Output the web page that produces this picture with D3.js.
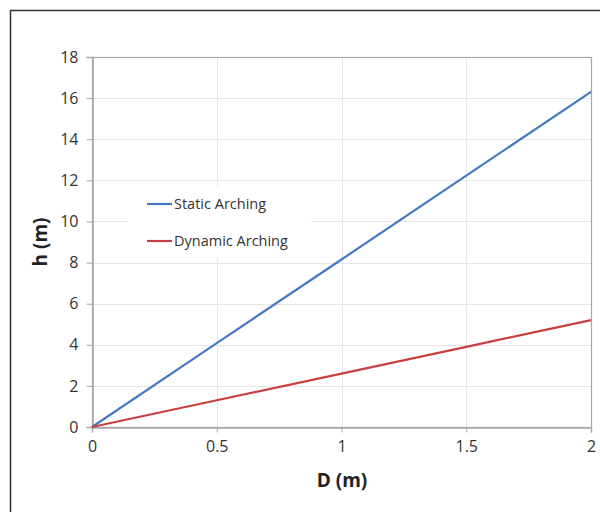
<!DOCTYPE html>
<html>
<head>
<meta charset="utf-8">
<script src="https://cdn.jsdelivr.net/npm/d3@7"></script>
<style>
  body { margin: 0; background: #fff; }
  svg { display: block; font-family: "Open Sans", "Liberation Sans", sans-serif; }
</style>
</head>
<body>
<svg id="chart"></svg>
<script>
// chart values
let depths = [0, 0.5, 1, 1.5, 2];
let staticArching = [0, 4.08, 8.15, 12.23, 16.3];
let dynamicArching = [0, 1.3, 2.6, 3.9, 5.2];
let seriesNames = ["Static Arching", "Dynamic Arching"];
let seriesColors = ["#4579c1", "#c8403e"];
let xTicks = [0, 0.5, 1, 1.5, 2];
let yTicks = [0, 2, 4, 6, 8, 10, 12, 14, 16, 18];

let w = 600, h = 512;
let margin = { left: 92, right: 9, top: 57, bottom: 85 };

var svg = d3.select("#chart").attr("width", w).attr("height", h);

// outer frame (runs past right and bottom edge)
svg.append("rect")
    .attr("x", 10.5).attr("y", 10.5)
    .attr("width", 620).attr("height", 540)
    .attr("fill", "none").attr("stroke", "#333").attr("stroke-width", 1.5);

let xScale = d3.scaleLinear()
    .domain([0, 2])
    .range([margin.left, w - margin.right]);
let yScale = d3.scaleLinear()
    .domain([0, 18])
    .range([h - margin.bottom, margin.top]);

// gridlines
svg.append("g").selectAll("line")
    .data(yTicks.slice(1, -1))
    .enter().append("line")
    .attr("x1", xScale(0)).attr("x2", xScale(2))
    .attr("y1", d => Math.round(yScale(d)) + 0.5)
    .attr("y2", d => Math.round(yScale(d)) + 0.5)
    .attr("stroke", "#e6e6e6");
svg.append("g").selectAll("line")
    .data(xTicks.slice(1, -1))
    .enter().append("line")
    .attr("y1", yScale(0)).attr("y2", yScale(18))
    .attr("x1", d => Math.round(xScale(d)) + 0.5)
    .attr("x2", d => Math.round(xScale(d)) + 0.5)
    .attr("stroke", "#e6e6e6");

// plot frame
svg.append("rect")
    .attr("x", xScale(0) + 0.5).attr("y", yScale(18) + 0.5)
    .attr("width", xScale(2) - xScale(0)).attr("height", yScale(0) - yScale(18))
    .attr("fill", "none").attr("stroke", "#a6a6a6").attr("stroke-width", 1.2);

let xAxis = d3.axisBottom(xScale).tickValues(xTicks).tickSize(5).tickPadding(8)
    .tickFormat(d3.format("~g"));
let yAxis = d3.axisLeft(yScale).tickValues(yTicks).tickSize(6).tickPadding(8);

function styleAxis(g) {
    g.attr("font-size", 16).attr("font-family", null);
    g.select(".domain").attr("stroke", "#a6a6a6").attr("stroke-width", 1.5);
    g.selectAll(".tick line").attr("stroke", "#a6a6a6");
    g.selectAll(".tick text").attr("fill", "#333");
}

svg.append("g")
    .attr("transform", "translate(0," + (yScale(0) + 0.5) + ")")
    .call(xAxis)
    .call(styleAxis);
svg.append("g")
    .attr("transform", "translate(" + (xScale(0) + 0.5) + ",0)")
    .call(yAxis)
    .call(styleAxis);

// legend box hides gridlines behind it
svg.append("rect")
    .attr("x", 127).attr("y", 186).attr("width", 184).attr("height", 72)
    .attr("fill", "#fff");

let line = d3.line()
    .x((d, i) => xScale(depths[i]))
    .y(d => yScale(d));
[staticArching, dynamicArching].forEach(function (vals, i) {
    svg.append("path")
        .attr("d", line(vals))
        .attr("fill", "none")
        .attr("stroke", seriesColors[i])
        .attr("stroke-width", 2.2);
});

let legend = svg.append("g").selectAll("g")
    .data(seriesNames)
    .enter().append("g")
    .attr("transform", (d, i) => "translate(147," + (204 + i * 37) + ")");
legend.append("line")
    .attr("x1", 0).attr("x2", 25)
    .attr("stroke", (d, i) => seriesColors[i]).attr("stroke-width", 2.2);
legend.append("text")
    .attr("x", 27).attr("dy", "0.35em")
    .attr("font-size", 14.5).attr("fill", "#333")
    .text(d => d);

// axis titles
svg.append("text")
    .attr("x", 342).attr("y", 487)
    .attr("text-anchor", "middle")
    .attr("font-size", 19).attr("font-weight", "bold").attr("fill", "#222")
    .text("D (m)");
svg.append("text")
    .attr("transform", "translate(47,242) rotate(-90)")
    .attr("text-anchor", "middle")
    .attr("font-size", 19).attr("font-weight", "bold").attr("fill", "#222")
    .text("h (m)");
</script>
</body>
</html>
